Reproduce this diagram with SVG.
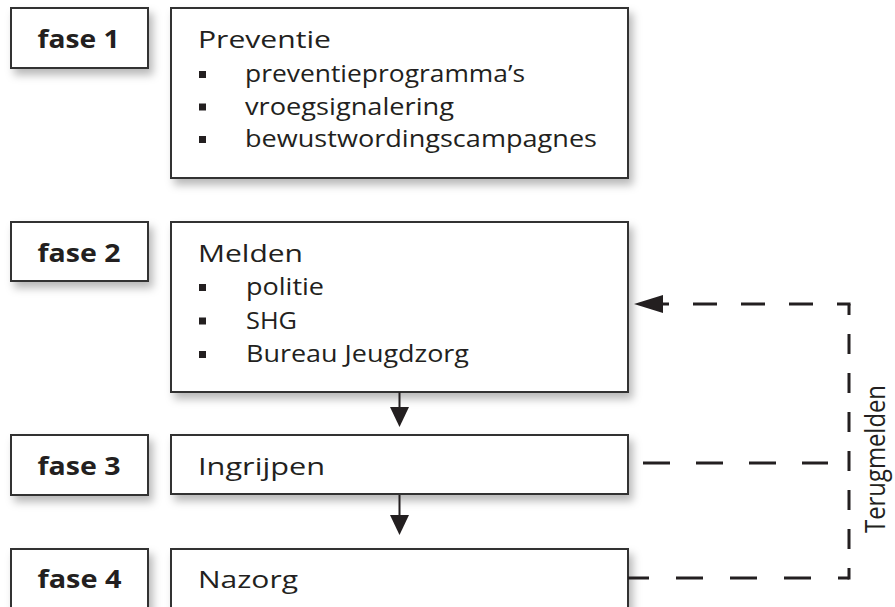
<svg xmlns="http://www.w3.org/2000/svg" width="895" height="607" viewBox="0 0 895 607">
<defs>
<filter id="shadow" x="-10%" y="-20%" width="130%" height="160%">
<feDropShadow dx="4" dy="6" stdDeviation="4" flood-color="#000" flood-opacity="0.28"/>
</filter>
<marker id="arrowHead" markerUnits="userSpaceOnUse" viewBox="0 -10 30 20" markerWidth="30" markerHeight="20" refX="0" refY="0" orient="auto">
<path d="M0,-9 L29,0 L0,9 Z" fill="#231f20"/>
</marker>
<marker id="arrowDown" markerUnits="userSpaceOnUse" viewBox="0 -10 21 20" markerWidth="21" markerHeight="20" refX="0" refY="0" orient="auto">
<path d="M0,-9.5 L20,0 L0,9.5 Z" fill="#231f20"/>
</marker>
</defs>
<style>
.box{fill:#fff;stroke:#333;stroke-width:2;filter:url(#shadow)}
.fase{font-family:"Open Sans","DejaVu Sans",sans-serif;font-weight:bold;font-size:25px;fill:#231f20}
.t{font-family:"Open Sans","DejaVu Sans",sans-serif;font-size:24px;fill:#231f20}
.bul{fill:#231f20}
.flow{fill:none;stroke:#231f20;stroke-width:2}
.dash{fill:none;stroke:#231f20;stroke-width:3}
</style>
<rect width="895" height="607" fill="#fff"/>

<g id="fase1">
<rect class="box" x="11" y="8" width="137" height="60"/>
<text class="fase" x="37.5" y="48" textLength="82" lengthAdjust="spacingAndGlyphs">fase 1</text>
</g>
<g id="preventie">
<rect class="box" x="171" y="8" width="457" height="170"/>
<text class="t" x="198" y="48" textLength="133" lengthAdjust="spacingAndGlyphs">Preventie</text>
<rect class="bul" x="199" y="71" width="7" height="7"/>
<text class="t" x="245" y="82" textLength="280" lengthAdjust="spacingAndGlyphs">preventieprogramma’s</text>
<rect class="bul" x="199" y="103.5" width="7" height="7"/>
<text class="t" x="245" y="114.5" textLength="209" lengthAdjust="spacingAndGlyphs">vroegsignalering</text>
<rect class="bul" x="199" y="136" width="7" height="7"/>
<text class="t" x="245" y="147" textLength="352" lengthAdjust="spacingAndGlyphs">bewustwordingscampagnes</text>
</g>

<g id="fase2">
<rect class="box" x="11" y="222" width="137" height="59"/>
<text class="fase" x="37.5" y="262" textLength="83" lengthAdjust="spacingAndGlyphs">fase 2</text>
</g>
<g id="melden">
<rect class="box" x="171" y="222" width="457" height="170"/>
<text class="t" x="198" y="262" textLength="105" lengthAdjust="spacingAndGlyphs">Melden</text>
<rect class="bul" x="199" y="284" width="7" height="7"/>
<text class="t" x="246" y="295" textLength="78" lengthAdjust="spacingAndGlyphs">politie</text>
<rect class="bul" x="199" y="317.5" width="7" height="7"/>
<text class="t" x="246" y="328.5" textLength="51" lengthAdjust="spacingAndGlyphs">SHG</text>
<rect class="bul" x="199" y="351" width="7" height="7"/>
<text class="t" x="246" y="362" textLength="223" lengthAdjust="spacingAndGlyphs">Bureau Jeugdzorg</text>
</g>

<g id="fase3">
<rect class="box" x="11" y="435" width="137" height="60"/>
<text class="fase" x="37.5" y="475" textLength="83" lengthAdjust="spacingAndGlyphs">fase 3</text>
</g>
<g id="ingrijpen">
<rect class="box" x="171" y="435" width="457" height="59"/>
<text class="t" x="198" y="475" textLength="127" lengthAdjust="spacingAndGlyphs">Ingrijpen</text>
</g>

<g id="fase4">
<rect class="box" x="11" y="549" width="137" height="80"/>
<text class="fase" x="37.5" y="588" textLength="84" lengthAdjust="spacingAndGlyphs">fase 4</text>
</g>
<g id="nazorg">
<rect class="box" x="171" y="549" width="457" height="80"/>
<text class="t" x="198" y="588" textLength="100" lengthAdjust="spacingAndGlyphs">Nazorg</text>
</g>

<g id="connectors">
<path class="flow" d="M399.5,392 V407" marker-end="url(#arrowDown)"/>
<path class="flow" d="M399.5,495 V515" marker-end="url(#arrowDown)"/>
<path class="dash" d="M628,578 H849" stroke-dasharray="27 27" stroke-dashoffset="6"/>
<path class="dash" d="M849,579.5 V304" stroke-dasharray="20 19" stroke-dashoffset="8.5"/>
<path class="dash" d="M850.5,304 H663" stroke-dasharray="13.5 24 24 24 24 24 24 24 20" marker-end="url(#arrowHead)"/>
<path class="dash" d="M643,463 H828" stroke-dasharray="27 26"/>
<text class="t" style="font-size:22px" transform="translate(885,459) rotate(-90) scale(1,1.25)" x="0" y="0" text-anchor="middle" textLength="148" lengthAdjust="spacingAndGlyphs">Terugmelden</text>
</g>
</svg>
